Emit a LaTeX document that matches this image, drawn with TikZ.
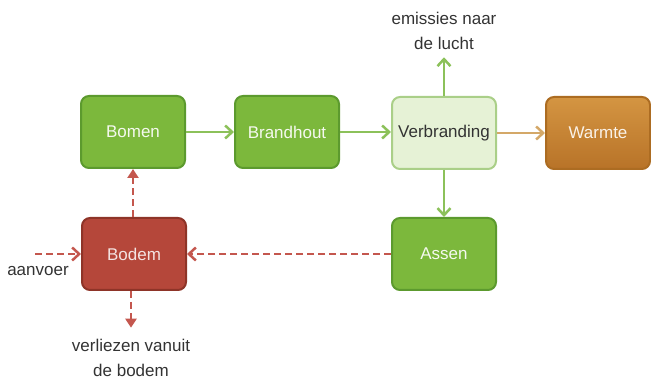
\documentclass[tikz,border=0pt]{standalone}
\usepackage{fontspec}
\setmainfont{Liberation Sans}
\usetikzlibrary{arrows.meta}

\definecolor{leafgreen}{HTML}{7CB83C}
\definecolor{leafedge}{HTML}{5C9A2E}
\definecolor{paleleaf}{HTML}{E6F2D6}
\definecolor{paleedge}{HTML}{AACF88}
\definecolor{soilred}{HTML}{B5473A}
\definecolor{soiledge}{HTML}{8E3428}
\definecolor{heattop}{HTML}{D49542}
\definecolor{heatbottom}{HTML}{B87328}
\definecolor{heatedge}{HTML}{AC6C22}
\definecolor{arrowgreen}{HTML}{8CC15A}
\definecolor{arrowred}{HTML}{C4574E}
\definecolor{arrowtan}{HTML}{D4A868}
\definecolor{labelgray}{HTML}{333333}

\tikzset{
	box/.style={rounded corners=8pt, line width=2pt, minimum width=104pt, minimum height=72pt, font=\fontsize{17}{20}\selectfont},
	woodbox/.style={box, draw=leafedge, fill=leafgreen, text=white!92!leafgreen},
	firebox/.style={box, draw=paleedge, fill=paleleaf, text=labelgray},
	heatbox/.style={box, draw=heatedge, top color=heattop, bottom color=heatbottom, text=white!88!heattop},
	soilbox/.style={box, draw=soiledge, fill=soilred, text=white!85!soilred},
	outlabel/.style={text=labelgray, align=center, font=\fontsize{17}{25}\selectfont},
	flow/.style={line width=2.5pt, -{Straight Barb[length=7pt,width=13pt]}},
	loss/.style={line width=2.5pt, color=arrowred, dash pattern=on 7pt off 4pt},
}

\begin{document}
\begin{tikzpicture}[x=1pt,y=-1pt]

\useasboundingbox (0,0) rectangle (651,387);

\node[woodbox] (bomen) at (133,132) {Bomen};
\node[woodbox] (brandhout) at (287,132) {Brandhout};
\node[firebox] (verbranding) at (444,133) {Verbranding};
\node[heatbox] (warmte) at (598,133) {Warmte};

\node[soilbox] (bodem) at (134,254) {Bodem};
\node[woodbox] (assen) at (444,254) {Assen};

\node[outlabel] (emissies) at (444,31) {emissies naar\\de lucht};
\node[outlabel] (verliezen) at (131,358) {verliezen vanuit\\de bodem};
\node[outlabel, font=\fontsize{17}{20}\selectfont] (aanvoer) at (38,271) {aanvoer};
\coordinate (instroom) at (35,254);

\draw[flow, arrowgreen] (bomen) -- (brandhout);
\draw[flow, arrowgreen] (brandhout.east) -- (brandhout.east -| verbranding.west);
\draw[flow, arrowtan] (verbranding) -- (warmte);
\draw[flow, arrowgreen, shorten >=4pt] (verbranding) -- (emissies);
\draw[flow, arrowgreen] (verbranding) -- (assen);

\draw[loss, -{Straight Barb[length=7pt,width=13pt]}] (assen) -- (bodem);
\draw[loss, -{Straight Barb[length=7pt,width=13pt]}] (instroom) -- (bodem.west);
\draw[loss, -{Triangle[length=9pt,width=11pt]}] (bodem.north -| bomen.south) -- (bomen.south);
\draw[loss, -{Triangle[length=9pt,width=11pt]}, shorten >=8pt] (bodem.south -| verliezen.north) -- (verliezen.north);

\end{tikzpicture}
\end{document}
